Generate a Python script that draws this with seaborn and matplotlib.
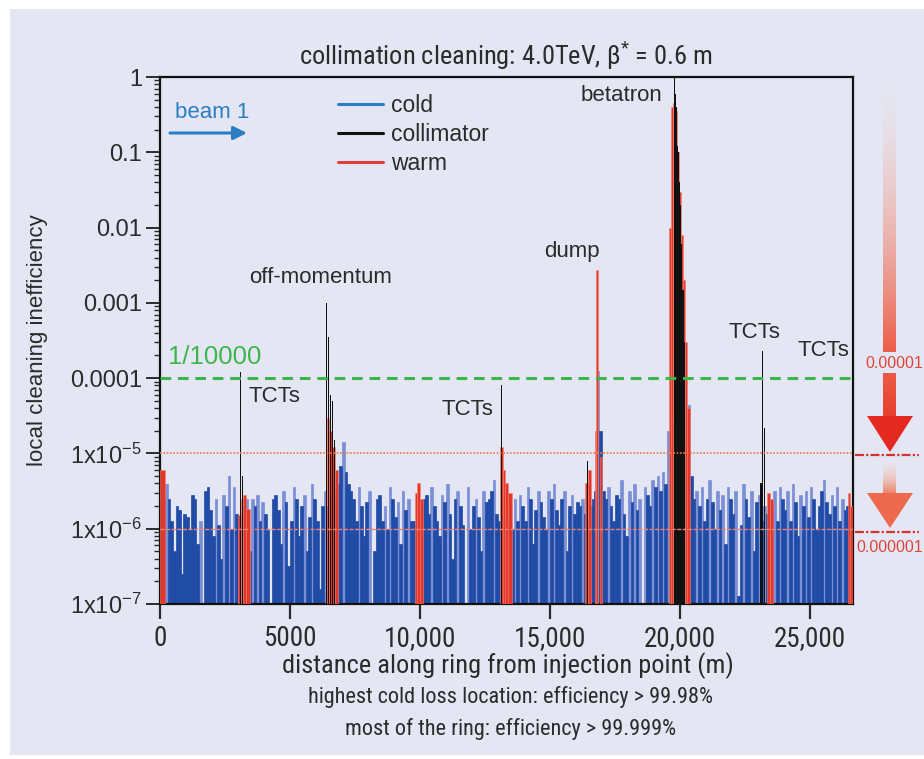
import numpy as np
import pandas as pd
import matplotlib
matplotlib.use("Agg")
import matplotlib.pyplot as plt
import matplotlib.font_manager as fm
from matplotlib.font_manager import FontProperties
from matplotlib.lines import Line2D
from matplotlib.patches import Polygon, Rectangle
from matplotlib.ticker import FixedLocator, FixedFormatter, LogLocator, NullFormatter
import seaborn as sns

RING_LENGTH = 26659  # m
BIN = 100            # m, cold-aperture bin length

# ---- data -------------------------------------------------------------
# cold aperture: log10(local cleaning inefficiency) in 100 m bins from the injection point
cold_log = (
    [-5.8, -5.6]
    + [-5.4, -5.6, -5.9, -6.3, -5.7, -5.75, -6.6, -5.8, -5.85, -6.0, -5.55, -5.6, -6.2, -5.9,
       -7.5, -5.5, -5.45, -5.75, -6.1, -5.6, -5.95, -6.4, -5.55, -5.7, -5.3, -6.0, -5.45, -5.8]
    + [-5.9, -6.1, -5.7, -5.6, -6.3]
    + [-5.6, -5.7, -5.55, -5.9, -5.65, -5.8, -6.0, -7.5, -5.6, -5.55, -5.75, -6.2, -5.5, -5.65,
       -6.5, -5.9, -5.45, -5.6, -6.1, -5.7, -5.55, -6.3, -5.85, -5.4, -5.6, -5.9, -6.8, -5.7, -5.5]
    + [-5.7, -5.6, -5.8, -5.5, -5.4]
    + [-5.17, -4.85, -5.25, -5.4]
    + [-5.5, -5.6, -5.9, -5.45, -5.7, -6.1, -5.65, -5.5, -7.2, -6.3, -5.6, -5.55, -5.9, -5.7,
       -6.0, -5.45, -5.6, -5.85, -5.65, -6.2, -5.5, -5.75, -5.6, -5.9]
    + [-5.9, -6.0, -5.8, -6.1]
    + [-5.6, -5.55, -5.8, -5.45, -5.7, -5.9, -6.1, -5.55, -5.65, -5.4, -5.8, -6.4, -5.6, -5.5,
       -5.7, -5.95, -7.3, -5.45, -6.0, -5.7, -5.6, -5.85, -6.3, -5.5, -5.65]
    + [-5.6, -5.5, -5.35, -5.8, -5.9, -5.7, -5.6]
    + [-5.8, -5.7, -6.0, -5.6, -5.9]
    + [-5.55, -5.7, -5.9, -5.45, -5.6, -6.2, -5.75, -5.5, -5.65, -5.85, -6.0, -5.5, -5.6, -5.4,
       -5.75, -5.95, -5.6, -5.5, -6.3, -5.7, -5.55, -5.8, -5.65]
    + [-5.7, -5.6, -5.8, -5.9, -5.7, -5.6, -5.5]
    + [-3.9, -4.7]
    + [-5.5, -5.6, -5.45, -5.7, -5.9, -5.55, -5.6, -5.35, -5.8, -6.1, -5.5, -5.65, -5.4, -5.75,
       -5.6, -7.4, -5.45, -5.55, -5.7, -5.35]
    + [-5.45, -5.3, -5.5, -5.25, -5.4, -4.7]
    + [-4.9, -4.6, -4.5, -4.6, -4.7, -4.8, -5.0]
    + [-4.36, -5.3, -5.6]
    + [-5.5, -5.7, -5.45, -5.9, -5.6, -5.35, -5.65, -6.0, -5.5, -5.75, -5.55, -6.2, -5.45, -5.6,
       -5.8, -5.5, -6.9, -5.95, -5.4, -5.6, -5.85, -5.5, -6.3, -5.65, -5.55, -5.9, -5.7]
    + [-5.8, -5.6, -5.7, -5.5, -5.9]
    + [-5.45, -5.6, -5.75, -5.5, -5.9, -5.4, -5.65, -6.1, -5.55, -5.7, -5.5, -5.85, -5.45, -5.6,
       -6.0, -5.7, -5.5, -5.35, -5.65, -5.8, -5.55, -5.7, -5.45, -5.9, -5.6, -5.75]
    + [-5.7, -5.8, -5.75]
)

# warm elements: centre (m), length (m), local inefficiency
warm_s = [95, 3050, 3150, 3250, 3380, 6470, 6570, 6670, 6790, 9850, 9960, 10060,
          13130, 13230, 13330, 13460, 16400, 16520, 16750, 16810, 16960,
          19610, 19690, 19770, 19850, 19930, 20010, 20090, 20170, 20250, 20330,
          23400, 23520, 26500, 26610]
warm_w = [190, 100, 100, 100, 140, 100, 100, 100, 120, 100, 120, 100,
          100, 100, 100, 140, 100, 140, 60, 60, 60,
          80, 80, 80, 80, 80, 80, 80, 80, 80, 80,
          100, 140, 100, 100]
warm_v = [6e-6, 1.5e-6, 2.5e-6, 2.8e-6, 1.8e-6, 3e-5, 2e-5, 1.2e-5, 6e-6, 3e-6, 4e-6, 2.5e-6,
          1.2e-5, 6e-6, 4e-6, 3e-6, 4e-6, 6e-6, 2e-5, 2.7e-3, 9e-6,
          0.01, 0.4, 0.45, 0.35, 0.1, 0.03, 0.008, 0.002, 3e-4, 4e-5,
          3e-6, 2.5e-6, 3e-6, 2e-6]

# collimators: position (m), local inefficiency
coll_s = [3115, 3160, 6420, 6480, 6560, 6620, 6700, 13150, 16460,
          19800, 19840, 19880, 19920, 19960, 20000, 20040, 20080, 20120, 20160,
          23120, 23190, 23270]
coll_v = [1.2e-4, 5e-6, 1e-3, 3.5e-4, 6e-5, 5e-5, 1.5e-5, 8e-5, 8e-6,
          1.0, 0.6, 0.4, 0.12, 0.1, 0.04, 0.02, 0.006, 0.0015, 3e-4,
          4e-6, 2.3e-4, 2.2e-5]

y_ticks = [1, 0.1, 0.01, 0.001, 0.0001, 1e-5, 1e-6, 1e-7]
y_tick_labels = ["1", "0.1", "0.01", "0.001", "0.0001",
                 "1x10$^{-5}$", "1x10$^{-6}$", "1x10$^{-7}$"]
x_ticks = [0, 5000, 10000, 15000, 20000, 25000]
x_tick_labels = ["0", "5000", "10,000", "15,000", "20,000", "25,000"]

ten_thousandth = 1e-4
quench_levels = [1e-5, 1e-6]
quench_labels = ["0.00001", "0.000001"]

peak_labels = [("betatron", 17770, 0.56), ("off-momentum", 6190, 2.2e-3),
               ("dump", 15850, 4.8e-3), ("TCTs", 4420, 5.7e-5),
               ("TCTs", 11810, 3.8e-5), ("TCTs", 22850, 4.1e-4),
               ("TCTs", 25540, 2.3e-4)]

# ---- style ------------------------------------------------------------
BG = "#e4e7f3"
INK = "#2b2b2b"
COLD = "#1f4ba6"
COLD_PEAK = "#7b8ed6"
WARM = "#e3372b"
WARM_EDGE = "#f2806c"
COLL = "#111111"
GREEN = "#3db54a"
QRED = "#e0453a"

sns.set_theme(style="ticks")
plt.rcParams["font.family"] = ["Liberation Sans", "DejaVu Sans"]
plt.rcParams["mathtext.default"] = "regular"
plt.rcParams["axes.unicode_minus"] = False

available = {f.name for f in fm.fontManager.ttflist}
narrow_name = next((n for n in ("Liberation Sans Narrow", "Roboto Condensed",
                                 "Open Sans Condensed", "Arial Narrow") if n in available), None)
if narrow_name:
    NARROW = dict(family=[narrow_name, "DejaVu Sans"], stretch="normal")
    nscale = 1.0
elif any(f.name == "DejaVu Sans" and f.stretch == "condensed" for f in fm.fontManager.ttflist):
    NARROW = dict(family=["DejaVu Sans"], stretch="condensed")
    nscale = 0.92
else:
    NARROW = dict(family=["Liberation Sans", "DejaVu Sans"], stretch="normal")
    nscale = 0.82


def narrow(size):
    return FontProperties(size=size * nscale, **NARROW)


W, H = 924, 759
fig = plt.figure(figsize=(W / 100, H / 100), dpi=100, facecolor="white")

# page background
bg = fig.add_axes([0, 0, 1, 1], zorder=0)
bg.set_xlim(0, W)
bg.set_ylim(H, 0)
bg.axis("off")
bg.add_patch(Rectangle((10, 9), W - 10, H - 13, color=BG, lw=0))

ax = fig.add_axes([160 / W, 1 - 604 / H, 693 / W, 527 / H], zorder=1)
ax.set_facecolor(BG)

# ---- marks -------------------------------------------------------------
cold_v = 10.0 ** np.asarray(cold_log)
padded = np.concatenate([[0.0], cold_v, [0.0]])
# sharp local maxima are rendered in a paler shade
is_peak = (cold_v > 1.25 * padded[:-2]) & (cold_v > 1.25 * padded[2:])
cold = pd.DataFrame({"s": BIN / 2 + BIN * np.arange(len(cold_v)), "v": cold_v,
                     "peak": np.where(is_peak, "peak", "body")})
n_before = len(ax.patches)
sns.histplot(data=cold, x="s", weights="v", hue="peak", hue_order=["body", "peak"],
             palette={"body": COLD, "peak": COLD_PEAK}, binwidth=BIN,
             binrange=(0, BIN * len(cold_v)), stat="count", element="bars",
             multiple="layer", linewidth=0, alpha=1.0, legend=False, ax=ax, zorder=2)
# close the hairline seams between neighbouring bins
for p in ax.patches[n_before:]:
    p.set_edgecolor(p.get_facecolor())
    p.set_linewidth(0.5)

ax.bar(warm_s, warm_v, width=warm_w, color=WARM, edgecolor=WARM_EDGE, linewidth=0.4, zorder=3)
ax.bar(coll_s, coll_v, width=40, color=COLL, linewidth=0, zorder=3.5)

ax.set_yscale("log")
ax.set_xlim(0, RING_LENGTH)
ax.set_ylim(1e-7, 1)

ax.axhline(ten_thousandth, color=GREEN, lw=2.2, ls=(0, (3.5, 2.2)), zorder=5)
ax.axhline(quench_levels[0], color="#ee7744", lw=1.2, ls=(0, (1, 1)), zorder=4)
ax.axhline(quench_levels[1], color="#f2806e", lw=1.0, ls=(0, (3, 1)), zorder=4)

# ---- axes --------------------------------------------------------------
ax.yaxis.set_major_locator(FixedLocator(y_ticks))
ax.yaxis.set_major_formatter(FixedFormatter(y_tick_labels))
ax.yaxis.set_minor_locator(LogLocator(base=10, subs=np.arange(2, 10), numticks=20))
ax.yaxis.set_minor_formatter(NullFormatter())
ax.xaxis.set_major_locator(FixedLocator(x_ticks))
ax.xaxis.set_major_formatter(FixedFormatter(x_tick_labels))

ax.tick_params(axis="y", which="major", direction="out", length=10, width=1.4,
               labelsize=17, pad=3, colors=INK)
ax.tick_params(axis="y", which="minor", direction="out", length=4, width=1.0, color=INK)
ax.tick_params(axis="x", which="major", direction="out", length=11, width=1.6,
               pad=4, colors=INK)
for lab in ax.get_xticklabels():
    lab.set_fontproperties(narrow(19.5))
for sp in ax.spines.values():
    sp.set_visible(True)
    sp.set_color("#111111")
    sp.set_linewidth(1.6)

ax.set_xlabel("distance along ring from injection point (m)", fontproperties=narrow(19),
              color=INK)
ax.xaxis.set_label_coords(0.502, -0.092)
ax.set_ylabel("local cleaning inefficiency", fontsize=16, color=INK)
ax.yaxis.set_label_coords(-0.162, 0.5)

fig.text(506 / W, 1 - 56 / H, r"collimation cleaning: 4.0TeV, $\beta^{*}$ = 0.6 m",
         ha="center", va="center", fontproperties=narrow(19), color=INK)
fig.text(511 / W, 1 - 697 / H, "highest cold loss location: efficiency > 99.98%",
         ha="center", va="center", fontproperties=narrow(16), color=INK)
fig.text(511 / W, 1 - 729 / H, "most of the ring: efficiency > 99.999%",
         ha="center", va="center", fontproperties=narrow(16), color=INK)

for txt, xm, yv in peak_labels:
    ax.text(xm, yv, txt, ha="center", va="center", fontsize=16, color=INK, zorder=6)
ax.text(310, 1.9e-4, "1/10000", ha="left", va="center", fontsize=18.5, color=GREEN, zorder=6)

handles = [Line2D([], [], color="#2a7cc4", lw=2.2),
           Line2D([], [], color=COLL, lw=2.2),
           Line2D([], [], color="#e23c3c", lw=2.2)]
leg = ax.legend(handles, ["cold", "collimator", "warm"], loc="upper left",
                bbox_to_anchor=(0.243, 0.985), frameon=False, fontsize=16.5,
                handlelength=2.0, handletextpad=0.35, labelspacing=0.27, borderaxespad=0)
for t in leg.get_texts():
    t.set_color(INK)

# ---- annotations outside the frame (pixel overlay) ---------------------
ov = fig.add_axes([0, 0, 1, 1], zorder=3)
ov.patch.set_alpha(0)
ov.axis("off")

ov.annotate("", xy=(247, 133), xytext=(170, 133),
            arrowprops=dict(arrowstyle="-|>", color="#2a7cc4", lw=2.2, mutation_scale=20,
                            shrinkA=0, shrinkB=0))
ov.text(175, 112, "beam 1", ha="left", va="center", fontsize=16, color="#2a7cc4")


def gradient_bar(x0, x1, y0, y1, c0, c1, a0, a1, power=1.3):
    n = 256
    t = np.linspace(0, 1, n)[:, None]
    rgb0 = np.array(matplotlib.colors.to_rgb(c0))
    rgb1 = np.array(matplotlib.colors.to_rgb(c1))
    img = np.zeros((n, 1, 4))
    img[:, 0, :3] = rgb0 + (rgb1 - rgb0) * t
    img[:, 0, 3] = (a0 + (a1 - a0) * t ** power)[:, 0]
    ov.imshow(img, extent=(x0, x1, y1, y0), aspect="auto", interpolation="bilinear", zorder=2)


# arrow towards the 1e-5 level, broken by its label
gradient_bar(883, 896, 85, 352, "#f7c8ba", "#ec5d48", 0.0, 1.0, power=1.0)
gradient_bar(883, 896, 373, 417, "#ec5a45", "#e8402f", 1.0, 1.0)
ov.add_patch(Polygon([(867, 416), (913, 416), (890, 452)], closed=True,
                     color="#e42a20", lw=0, zorder=3))
# arrow towards the 1e-6 level
gradient_bar(883, 896, 462, 494, "#f3d6cc", "#ef7c62", 0.2, 1.0)
ov.add_patch(Polygon([(867, 493), (913, 493), (890, 528)], closed=True,
                     color="#ee6a4e", lw=0, zorder=3))
for yy in (455, 532):
    ov.plot([855, 919], [yy, yy], color="#d83030", lw=1.6, ls=(0, (4, 1, 1, 1)), zorder=4)
ov.text(894, 363, quench_labels[0], ha="center", va="center", fontsize=11.5, color=QRED)
ov.text(890, 548, quench_labels[1], ha="center", va="center", fontsize=11.5, color=QRED)

ov.set_xlim(0, W)
ov.set_ylim(H, 0)

fig.savefig("out.png", dpi=100, facecolor="white")
